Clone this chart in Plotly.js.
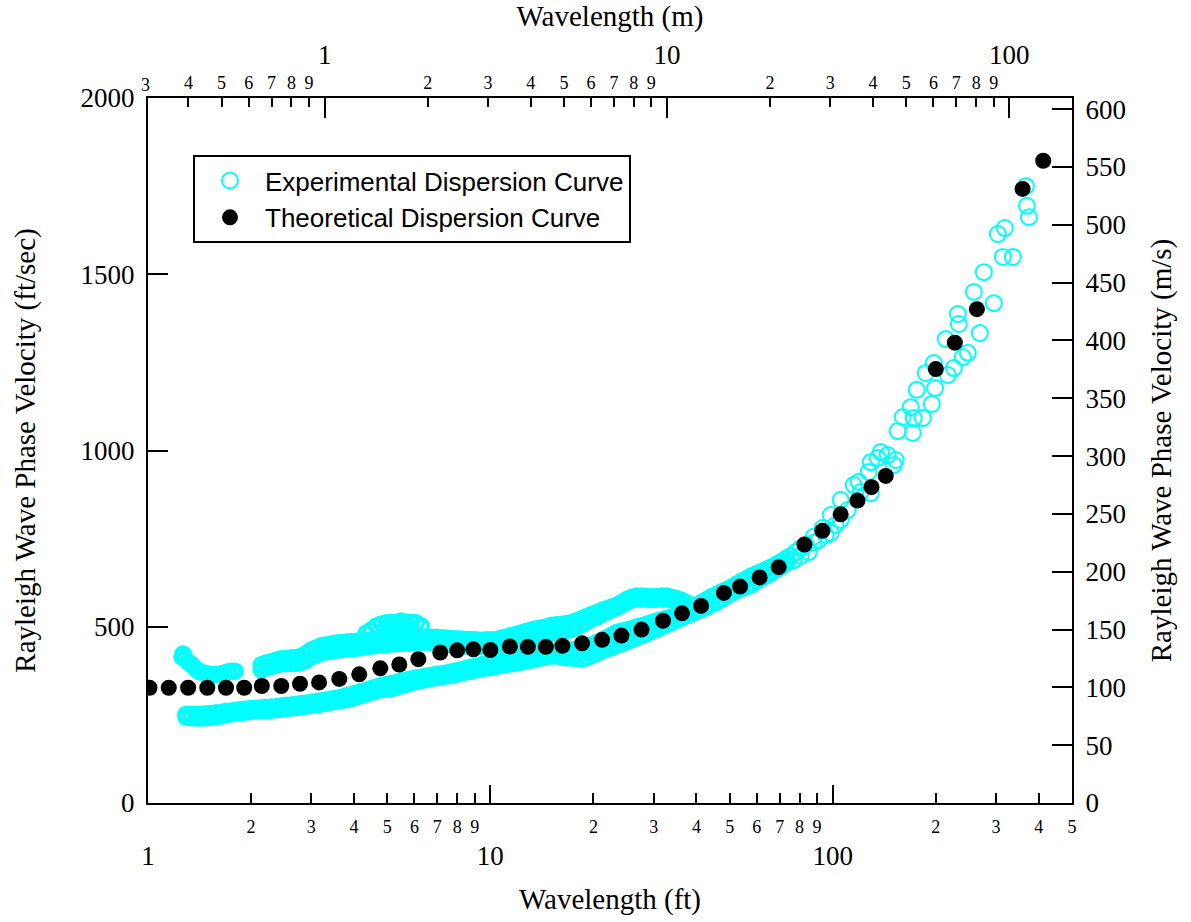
<!DOCTYPE html>
<html>
<head>
<meta charset="utf-8">
<script src="https://cdn.plot.ly/plotly-3.0.1.min.js"></script>
<style>html,body{margin:0;padding:0;background:#fff;}#chart{width:1191px;height:922px;}</style>
</head>
<body>
<div id="chart"></div>
<script>
// ---- Theoretical dispersion curve (wavelength ft, phase velocity ft/sec)
const theoX = [1.01,1.15,1.31,1.49,1.69,1.91,2.15,2.45,2.78,3.16,3.62,4.14,4.77,5.42,6.16,7.14,8.0,8.92,10.0,11.4,12.87,14.53,16.24,18.54,21.21,24.15,27.64,31.95,36.3,41.26,48.11,53.64,61.17,69.53,82.68,93.31,105.5,118.1,129.8,142.9,200.1,227.4,263.8,358.6,412.0];
const theoV = [327,327,327,327,327,327,332,332,338,342,352,365,382,393,408,427,433,436,434,444,443,443,446,453,463,475,492,517,538,559,596,614,640,669,733,772,819,858,896,928,1231,1306,1401,1742,1822];

// ---- Experimental dispersion curve (wavelength ft, phase velocity ft/sec)
const hookX = [1.257,1.266,1.284,1.310,1.336,1.363,1.391,1.419,1.458,1.497,1.539,1.581,1.624,1.668,1.714,1.761,1.797];
const hookV = [414,423,408,400,394,386,377,372,369,366,363,365,366,369,372,374,374];

const bandX = [1.291,1.336,1.382,1.429,1.478,1.528,1.581,1.635,1.691,1.749,
1.809,1.870,1.934,2.001,2.069,2.140,2.213,2.289,2.367,2.448,
2.532,2.619,2.708,2.801,2.897,2.996,3.099,3.205,3.315,3.428,
3.546,3.667,3.793,3.923,4.057,4.196,4.339,4.488,4.642,4.801,
4.965,5.135,5.311,5.493,5.681,5.875,6.077,6.285,6.500,6.722,
6.953,7.191,7.437,7.692,7.955,8.228,8.509,8.801,9.102,9.414,
9.736,10.07,10.41,10.77,11.14,11.52,11.92,12.32,12.75,13.18,
13.63,14.10,14.59,15.09,15.60,16.14,16.69,17.26,17.85,18.46,
19.10,19.75,20.42,21.12,21.85,22.59,23.37,24.17,25.00,25.85,
26.74,27.65,28.60,29.58,30.59,31.64,32.72,33.84,35.00,36.20,
37.44,38.72,40.05,41.42,42.83,44.30,45.82,47.39,49.01,50.69,
52.42,54.21,56.07,57.99,59.97,62.03,64.15,66.35,68.62,70.97,
73.40];
const lowRowA = [252,252,252,252,253,254,256,257,260,261,
263,265,267,268,269,270,271,272,273,275,
277,278,280,282,284,286,288,290,292,295,
297,300,304,307,312,316,320,325,329,333,
336,339,342,346,349,352,355,357,360,362,
365,367,369,372,375,378,382,386,389,392,
394,396,399,401,404,406,409,411,414,417,
420,423,425,428,430,431,433,435,437,439,
443,449,455,461,469,476,484,488,491,495,
499,503,507,512,516,520,524,528,533,537,
544,552,561,569,577,586,592,599,606,613,
621,629,637,645,651,657,663,670,678,686,
695];
const lowRowB = [244,242,242,241,242,243,245,247,251,253,
255,256,258,260,261,262,262,263,265,266,
268,270,271,273,275,277,279,281,284,286,
289,291,293,296,301,305,309,314,318,321,
323,325,328,333,337,341,345,347,351,353,
356,358,360,363,366,369,372,375,378,381,
383,385,388,390,393,395,398,400,403,406,
409,412,414,417,418,414,412,412,410,409,
412,418,424,430,436,441,447,452,457,463,
469,475,480,487,493,500,506,512,519,525,
531,537,543,549,556,564,569,578,587,595,
603,608,614,620,629,637,645,654,662,671,
681];
// upper band rows start at bandX[15] (2.14 ft)
const UP_START = 15;
const upRowA = [392,397,401,405,409,410,412,413,416,424,
434,440,446,449,451,454,455,457,458,459,
460,462,462,463,464,465,465,466,467,468,
468,469,470,471,470,470,469,468,467,466,
465,464,464,463,462,463,463,464,468,471,
475,479,483,487,491,494,497,500,504,506,
507,509,512,517,523,529,535,540,546,551,
556,561,569,577,584,587,587,586,585,586,
587,587,584,580,575,568,560];
const upRowB = [378,383,387,391,395,395,396,396,399,405,
414,420,426,429,431,434,435,437,438,439,
441,444,445,447,448,450,451,452,453,454,
454,455,456,457,455,454,453,451,449,447,
445,445,446,445,445,446,446,446,448,449,
452,455,458,461,465,468,472,476,481,484,
486,489,492,499,506,513,521,527,535,541,
548,554,562,569,576,579,579,578,577,578,
579,581,576,572,567,560,552];
const bumpX = [4.339,4.488,4.642,4.801,4.965,5.135,5.311,5.493,5.681,5.875,6.077,6.285];
const bumpV = [482,491,502,508,511,513,513,516,513,513,511,502];
const scatX = [75.4,76.9,78.0,80.6,80.6,83.4,85.1,88.0,88.0,91.0,93.5,95.4,98.7,98.7,102,105.5,105.5,110.6,115.2,119.1,120.8,127.4,129.2,129.2,135.4,138.2,144.8,150.8,152.8,154.9,160.2,169.1,171.4,172.5,183.3,194.8,176.0,199.1,187.0,197.4,216.9,225.9,214.0,240.0,248.2,232.1,233.6,269.1,258.4,295.6,276.4,303.7,318.4,314.1,336.0,366.7,369.2,374.2];
const scatV = [701,689,712,723,701,732,712,738,755,746,780,760,766,817,789,803,860,831,902,911,882,939,967,879,979,996,987,959,973,1055,1095,1123,1050,1092,1092,1132,1172,1177,1220,1248,1214,1234,1316,1265,1277,1387,1359,1333,1450,1418,1506,1614,1631,1549,1549,1750,1694,1662];

// ---- Tick labels
const ftMinorVals = [2,3,4,5,6,7,8,9,20,30,40,50,60,70,80,90,200,300,400,500];
const ftMinorText = ['2','3','4','5','6','7','8','9','2','3','4','5','6','7','8','9','2','3','4','5'];
const ftMajorVals = [1,10,100];
const ftMajorText = ['1','10','100'];
const mMinorVals = [0.4,0.5,0.6,0.7,0.8,0.9,2,3,4,5,6,7,8,9,20,30,40,50,60,70,80,90];
const mMinorText = ['4','5','6','7','8','9','2','3','4','5','6','7','8','9','2','3','4','5','6','7','8','9'];
const mMajorVals = [1,10,100];
const mMajorText = ['1','10','100'];
const ftsVals = [0,500,1000,1500,2000];
const msVals = [0,50,100,150,200,250,300,350,400,450,500,550,600];

const upX = bandX.slice(UP_START, UP_START + upRowA.length);
const denseX = [].concat(hookX, bandX, bandX, upX, upX, bumpX);
const denseV = [].concat(hookV, lowRowA, lowRowB, upRowA, upRowB, bumpV);

const serif = 'Liberation Serif, Times New Roman, serif';
const sans = 'Liberation Sans, Arial, sans-serif';
const CYAN = '#00FFFF';

const traces = [
  {x: scatX, y: scatV, type: 'scatter', mode: 'markers', name: 'Experimental Dispersion Curve', legendgroup: 'exp',
   marker: {symbol: 'circle-open', size: 16, color: CYAN, line: {width: 2, color: CYAN}}},
  {x: denseX, y: denseV, type: 'scatter', mode: 'markers', name: 'Experimental Dispersion Curve', legendgroup: 'exp', showlegend: false,
   marker: {symbol: 'circle-open', size: 14, color: CYAN, line: {width: 3.5, color: CYAN}}},
  {x: theoX, y: theoV, type: 'scatter', mode: 'markers', name: 'Theoretical Dispersion Curve',
   marker: {symbol: 'circle', size: 16, color: '#000000', line: {width: 0}}},
  {x: [], y: [], xaxis: 'x2', yaxis: 'y', showlegend: false, hoverinfo: 'skip', mode: 'markers'},
  {x: [], y: [], xaxis: 'x3', yaxis: 'y', showlegend: false, hoverinfo: 'skip', mode: 'markers'},
  {x: [], y: [], xaxis: 'x4', yaxis: 'y', showlegend: false, hoverinfo: 'skip', mode: 'markers'},
  {x: [], y: [], xaxis: 'x', yaxis: 'y2', showlegend: false, hoverinfo: 'skip', mode: 'markers'}
];

const common = {showgrid: false, zeroline: false, tickcolor: '#000', tickwidth: 2, linecolor: '#000', linewidth: 2, fixedrange: true};
const ftRange = [0, 2.699];
const mRange = [-0.51598, 2.18302];

const layout = {
  width: 1191, height: 922,
  margin: {l: 148, r: 119, t: 98, b: 119, pad: 0},
  paper_bgcolor: '#fff', plot_bgcolor: '#fff',
  font: {family: serif, color: '#000'},
  showlegend: true,
  legend: {x: 0.0487, y: 0.919, xanchor: 'left', yanchor: 'top', bordercolor: '#000', borderwidth: 2, itemwidth: 60,
           bgcolor: '#fff', font: {family: sans, size: 26, color: '#000'}, tracegroupgap: 0},
  xaxis: Object.assign({}, common, {type: 'log', range: ftRange, tickmode: 'array', tickvals: ftMinorVals, ticktext: ftMinorText,
          ticks: 'inside', ticklen: 10, tickfont: {size: 18}, showline: true, side: 'bottom', ticklabelstandoff: 6}),
  xaxis2: Object.assign({}, common, {type: 'log', overlaying: 'x', anchor: 'y', side: 'bottom', range: ftRange, tickmode: 'array',
          tickvals: ftMajorVals, ticktext: ftMajorText, ticks: 'inside', ticklen: 18, tickfont: {size: 27}, showline: false,
          ticklabelstandoff: 34, title: {text: 'Wavelength (ft)', font: {size: 29}, standoff: 18}}),
  xaxis3: Object.assign({}, common, {type: 'log', overlaying: 'x', anchor: 'y', side: 'top', range: mRange, tickmode: 'array',
          tickvals: mMinorVals, ticktext: mMinorText, ticks: 'inside', ticklen: 9, tickfont: {size: 18}, showline: true, ticklabelstandoff: 0}),
  xaxis4: Object.assign({}, common, {type: 'log', overlaying: 'x', anchor: 'y', side: 'top', range: mRange, tickmode: 'array',
          tickvals: mMajorVals, ticktext: mMajorText, ticks: 'inside', ticklen: 20, tickfont: {size: 27}, showline: false,
          ticklabelstandoff: 28, title: {text: 'Wavelength (m)', font: {size: 29}, standoff: 8}}),
  yaxis: Object.assign({}, common, {range: [0, 2000], tickmode: 'array', tickvals: ftsVals, ticks: 'inside', ticklen: 20,
          tickfont: {size: 27}, showline: true, ticklabelstandoff: 6,
          title: {text: 'Rayleigh Wave Phase Velocity (ft/sec)', font: {size: 29}, standoff: 36}}),
  yaxis2: Object.assign({}, common, {overlaying: 'y', anchor: 'x', side: 'right', range: [0, 609.6], tickmode: 'array',
          tickvals: msVals, ticks: 'inside', ticklen: 20, tickfont: {size: 27}, showline: true, ticklabelstandoff: 6,
          title: {text: 'Rayleigh Wave Phase Velocity (m/s)', font: {size: 29}, standoff: 26}}),
  annotations: [
    {text: '3', xref: 'paper', yref: 'paper', x: -0.0026, y: 1, xanchor: 'center', yanchor: 'bottom', yshift: 1,
     showarrow: false, font: {family: serif, size: 18, color: '#000'}}
  ]
};

Plotly.newPlot('chart', traces, layout, {displayModeBar: false, staticPlot: true});
</script>
</body>
</html>
